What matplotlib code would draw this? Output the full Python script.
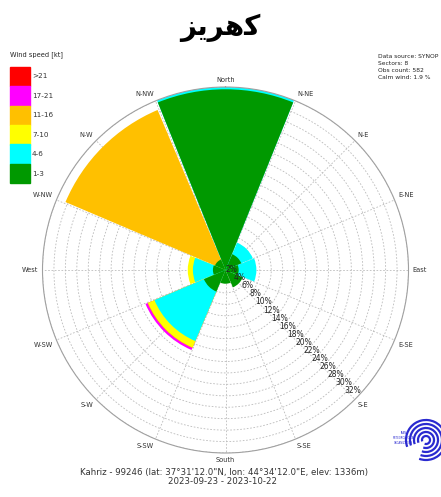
import numpy as np
import matplotlib
matplotlib.use("Agg")
import matplotlib.pyplot as plt
import matplotlib.transforms as mtrans
from matplotlib.patches import Rectangle, Arc

# ---------------- data ----------------
directions = ["N", "NE", "E", "SE", "S", "SW", "W", "NW"]
dir_angles = [0, 45, 90, 135, 180, 225, 270, 315]
speed_labels = ["1-3", "4-6", "7-10", "11-16", "17-21", ">21"]
speed_colors = ["#009900", "#00ffff", "#ffff00", "#ffc000", "#ff00ff", "#ff0000"]
# frequency (%) per speed class for each direction
f_1_3 = [31.6, 3.0, 2.3, 3.3, 2.4, 4.1, 2.2, 2.0]
f_4_6 = [0.4, 2.2, 3.1, 0.0, 0.0, 9.4, 3.5, 0.0]
f_7_10 = [0.0, 0.0, 0.0, 0.0, 0.0, 1.2, 0.9, 0.0]
f_11_16 = [0.0, 0.0, 0.0, 0.0, 0.0, 0.1, 0.0, 28.4]
f_17_21 = [0.0, 0.0, 0.0, 0.0, 0.0, 0.4, 0.0, 0.0]
f_gt21 = [0.0, 0.0, 0.0, 0.0, 0.0, 0.0, 0.0, 0.0]
rgrid_values = list(range(2, 34, 2))
compass_labels = ["North", "N-NE", "N-E", "E-NE", "East", "E-SE", "S-E", "S-SE",
                  "South", "S-SW", "S-W", "W-SW", "West", "W-NW", "N-W", "N-NW"]
title = "\uFEB0\uFBFE\uFEAE\uFEEB\uFB90"  # کهریز (shaped, visual order)
info_lines = ["Data source: SYNOP", "Sectors: 8", "Obs count: 582", "Calm wind: 1.9 %"]
station_line = "Kahriz - 99246 (lat: 37\u00b031'12.0\"N, lon: 44\u00b034'12.0\"E, elev: 1336m)"
period_line = "2023-09-23 - 2023-10-22"

W, H = 441, 497
fig = plt.figure(figsize=(W / 100, H / 100), dpi=100)
fx = lambda x: x / W
fy = lambda y: 1 - y / H

cx, cy, R = 225.5, 270.0, 183.0
ax = fig.add_axes([fx(cx - R), fy(cy + R), 2 * R / W, 2 * R / H], projection="polar")
ax.set_theta_zero_location("N")
ax.set_theta_direction(-1)
rmax = 32.0
ax.set_ylim(0, rmax)

classes = np.array([f_1_3, f_4_6, f_7_10, f_11_16, f_17_21, f_gt21])
cum = np.cumsum(classes, axis=0)
theta = np.deg2rad(dir_angles)
width = np.deg2rad(44)
for i in range(len(classes) - 1, -1, -1):
    mask = classes[i] > 0
    if not mask.any():
        continue
    ax.bar(theta[mask], cum[i][mask], width=width, bottom=0, color=speed_colors[i],
           edgecolor="none", linewidth=0, zorder=2 + (len(classes) - i) * 0.01)

# grid
ax.set_yticks(rgrid_values)
ax.set_yticklabels([])
ax.set_xticks(np.deg2rad(np.arange(0, 360, 22.5)))
ax.set_xticklabels([])
ax.grid(True, color="#bbbbbb", linestyle=(0, (2, 2)), linewidth=0.6, zorder=1)
ax.set_axisbelow(True)
ax.spines["polar"].set_color("#a0a0a0")
ax.spines["polar"].set_linewidth(0.8)

# radial labels
for v in rgrid_values:
    off = mtrans.offset_copy(ax.transData, fig=fig, x=-2.5, y=8.5, units="dots")
    ax.text(np.deg2rad(135), v, f"{v}%", transform=off, fontsize=5.5,
            ha="center", va="center", color="#222222", zorder=10, clip_on=False)

# compass labels
for k, lab in enumerate(compass_labels):
    ang = k * 22.5
    s, c = np.sin(np.deg2rad(ang)), np.cos(np.deg2rad(ang))
    ha = "left" if s > 0.1 else ("right" if s < -0.1 else "center")
    va = "bottom" if c > 0.1 else ("top" if c < -0.1 else "center")
    ax.text(np.deg2rad(ang), rmax * (1 + 4 / R), lab, fontsize=4.8, ha=ha, va=va,
            color="#333333", clip_on=False)

# title
fig.text(fx(220), fy(28), title, fontsize=20, fontweight="bold", ha="center", va="center",
         family=["DejaVu Sans"])

# legend
fig.text(fx(10), fy(55), "Wind speed [kt]", fontsize=4.8, ha="left", va="center", color="#222222")
box_top, box_h = 66.5, 19.5
for j, (lab, col) in enumerate(zip(speed_labels[::-1], speed_colors[::-1])):
    y0 = box_top + j * box_h
    fig.patches.append(Rectangle((fx(10), fy(y0 + box_h)), 19.5 / W, box_h / H,
                                 transform=fig.transFigure, color=col))
    fig.text(fx(32), fy(y0 + box_h / 2), lab, fontsize=5.2, ha="left", va="center", color="#333333")

# info
for i, line in enumerate(info_lines):
    fig.text(fx(378), fy(56 + i * 7.2), line, fontsize=4.3, ha="left", va="center", color="#222222")

# footer
fig.text(fx(224), fy(472), station_line, fontsize=6.2, ha="center", va="center", color="#333333")
fig.text(fx(222), fy(482), period_line, fontsize=6.2, ha="center", va="center", color="#333333")

# logo approximation
lax = fig.add_axes([fx(388), fy(462), 53 / W, 44 / H])
lax.set_xlim(0, 53)
lax.set_ylim(0, 44)
lax.set_aspect("equal")
lax.axis("off")
for rr in [4, 8, 12, 16, 20]:
    lax.add_patch(Arc((38, 22), 2 * rr, 2 * rr, theta1=-110, theta2=200, color="#2a2ad0", lw=1.6))
lax.text(16, 24, "IRAN\nMETEOROLOGICAL\nORGANIZATION", fontsize=1.8, ha="center", va="center",
         color="#2a2ad0")

fig.savefig("out.png", dpi=100)
